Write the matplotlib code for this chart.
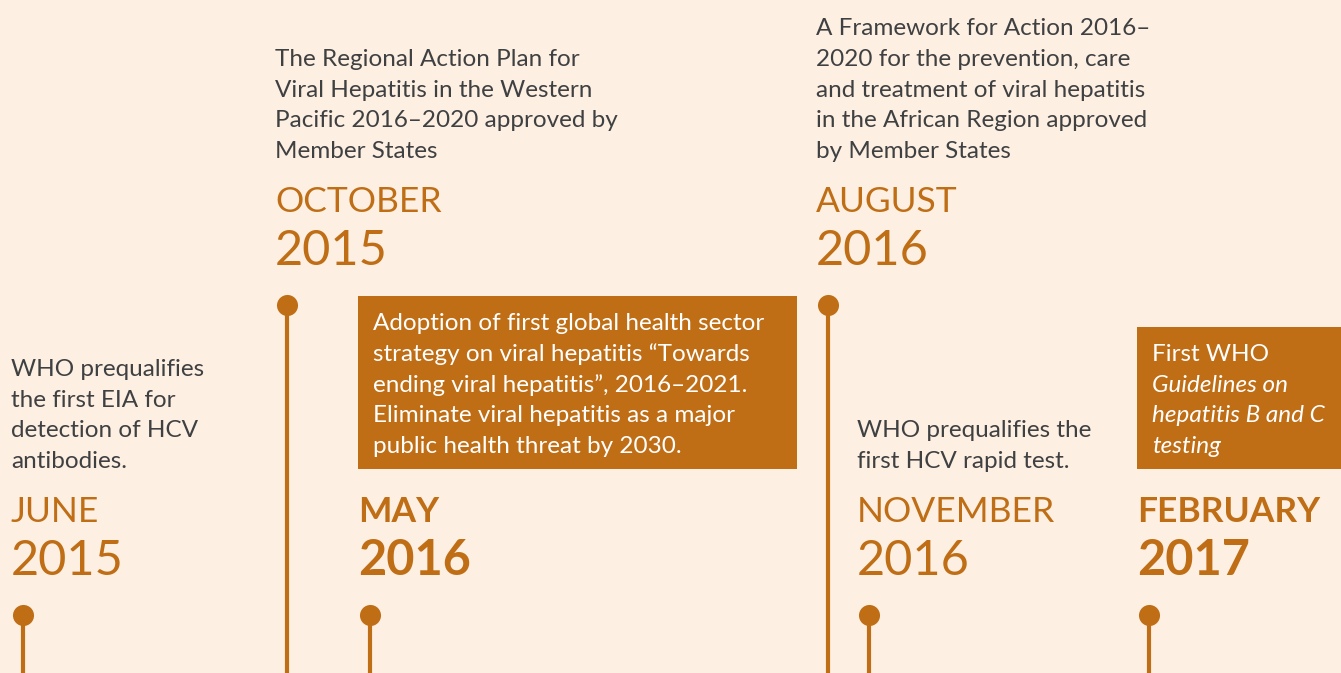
import matplotlib.pyplot as plt
from matplotlib.patches import Rectangle

# timeline content
months = ["JUNE", "OCTOBER", "MAY", "AUGUST", "NOVEMBER", "FEBRUARY"]
years = ["2015", "2015", "2016", "2016", "2016", "2017"]
descriptions = [
    ["WHO prequalifies", "the first EIA for", "detection of HCV", "antibodies."],
    ["The Regional Action Plan for", "Viral Hepatitis in the Western",
     "Pacific 2016\u20132020 approved by", "Member States"],
    ["Adoption of first global health sector",
     "strategy on viral hepatitis \u201cTowards",
     "ending viral hepatitis\u201d, 2016\u20132021.",
     "Eliminate viral hepatitis as a major",
     "public health threat by 2030."],
    ["A Framework for Action 2016\u2013", "2020 for the prevention, care",
     "and treatment of viral hepatitis", "in the African Region approved",
     "by Member States"],
    ["WHO prequalifies the", "first HCV rapid test."],
    ["First WHO", "Guidelines on", "hepatitis B and C", "testing"],
]
italic_from = [None, None, None, None, None, 1]
highlighted = [False, False, True, False, False, True]

# layout (pixels)
W, H = 1341, 673
dot_x = [23, 287, 370, 828, 869, 1149]
row = [1, 0, 1, 0, 1, 1]          # 0 = top row, 1 = bottom row
box_w = [0, 0, 439, 0, 0, 220]

bg = "#FDEFE2"
orange = "#BF6E16"
grey = "#3F4042"
font = "Lato"

fig = plt.figure(figsize=(W / 100, H / 100), dpi=100)
fig.patch.set_facecolor(bg)
ax = fig.add_axes([0, 0, 1, 1])
ax.set_xlim(0, W)
ax.set_ylim(H, 0)
ax.axis("off")

lh = 30.7
for i in range(len(months)):
    off = row[i] * 310
    x = dot_x[i]
    dot_y = 305 + off
    ax.plot([x, x], [dot_y, H + 5], color=orange, lw=3, solid_capstyle="butt", zorder=2)
    ax.scatter([x], [dot_y], s=230, color=orange, zorder=3, linewidths=0)

    weight = "bold" if highlighted[i] else "normal"
    tx = x - 12
    ax.text(tx, 212 + off, months[i], color=orange, fontsize=25.5, family=font,
            weight=weight, va="baseline", ha="left")
    ax.text(tx, 265 + off, years[i], color=orange, fontsize=35, family=font,
            weight=weight, va="baseline", ha="left")

    lines = descriptions[i]
    n = len(lines)
    if highlighted[i]:
        last = 143 + off
        first = last - (n - 1) * lh
        ax.add_patch(Rectangle((x - 12, first - 34), box_w[i], last + 16 - (first - 34),
                               color=orange, lw=0, zorder=1))
        tcol = "white"
        tx = x + 3
    else:
        last = 158 + off
        first = last - (n - 1) * lh
        tcol = grey
    for j, line in enumerate(lines):
        style = "italic" if italic_from[i] is not None and j >= italic_from[i] else "normal"
        ax.text(tx, first + j * lh, line, color=tcol, fontsize=17.5, family=font,
                style=style, va="baseline", ha="left", zorder=4)

fig.savefig("out.png", dpi=100, facecolor=bg)
